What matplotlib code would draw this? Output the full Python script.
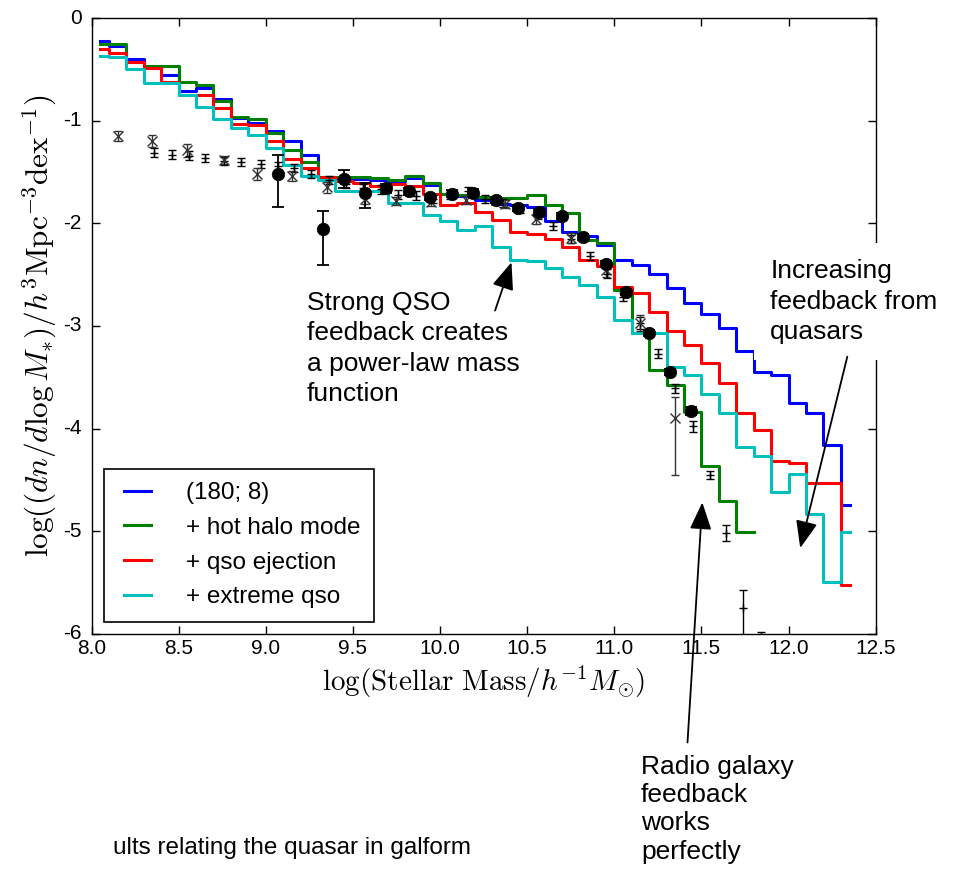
import numpy as np
import matplotlib
matplotlib.use('Agg')
from matplotlib import pyplot as plt

plt.style.use('classic')
plt.rcParams['font.family'] = ['Liberation Sans', 'DejaVu Sans']
plt.rcParams['mathtext.fontset'] = 'cm'
plt.rcParams['axes.unicode_minus'] = False

# model mass functions, bin centres (dex)
mass_bins = [8.05, 8.15, 8.25, 8.35, 8.45, 8.55, 8.65, 8.75, 8.85, 8.95,
             9.05, 9.15, 9.25, 9.35, 9.45, 9.55, 9.65, 9.75, 9.85, 9.95,
             10.05, 10.15, 10.25, 10.35, 10.45, 10.55, 10.65, 10.75, 10.85, 10.95,
             11.05, 11.15, 11.25, 11.35, 11.45, 11.55, 11.65, 11.75, 11.85, 11.95,
             12.05, 12.15, 12.25, 12.35]
nan = np.nan
mf_base = [-0.22, -0.27, -0.40, -0.48, -0.55, -0.71, -0.68, -0.79, -0.97, -1.02,
           -1.10, -1.20, -1.33, -1.55, -1.56, -1.57, -1.58, -1.59, -1.56, -1.63,
           -1.71, -1.73, -1.77, -1.81, -1.82, -1.84, -1.98, -2.08, -2.12, -2.21,
           -2.36, -2.41, -2.49, -2.63, -2.78, -2.88, -3.02, -3.24, -3.45, -3.48,
           -3.75, -3.85, -4.16, -4.75]
mf_hothalo = [-0.25, -0.25, -0.43, -0.47, -0.47, -0.62, -0.65, -0.81, -0.96, -0.98,
              -1.12, -1.29, -1.40, -1.55, -1.55, -1.55, -1.56, -1.58, -1.54, -1.61,
              -1.71, -1.72, -1.74, -1.75, -1.75, -1.72, -1.82, -1.90, -2.16, -2.19,
              -2.65, -3.07, -3.43, -3.58, -3.84, -4.37, -4.71, -5.01, nan, nan,
              nan, nan, nan, nan]
mf_qso = [-0.30, -0.34, -0.43, -0.49, -0.62, -0.75, -0.75, -0.88, -1.03, -1.04,
          -1.20, -1.37, -1.46, -1.55, -1.59, -1.61, -1.64, -1.62, -1.64, -1.71,
          -1.82, -1.80, -1.89, -1.97, -2.08, -2.10, -2.15, -2.23, -2.36, -2.42,
          -2.62, -2.68, -2.86, -3.05, -3.19, -3.36, -3.56, -3.85, -4.01, -4.32,
          -4.34, -4.53, -4.53, -5.53]
mf_extreme = [-0.37, -0.38, -0.50, -0.63, -0.63, -0.75, -0.87, -0.98, -1.07, -1.14,
              -1.27, -1.43, -1.54, -1.58, -1.69, -1.69, -1.69, -1.80, -1.80, -1.92,
              -1.98, -2.07, -2.03, -2.23, -2.36, -2.37, -2.44, -2.52, -2.60, -2.72,
              -2.94, -3.07, -3.07, -3.40, -3.48, -3.66, -3.85, -4.18, -4.27, -4.62,
              -4.44, -4.83, -5.50, -5.01]
model_labels = ['(180; 8)', '+ hot halo mode', '+ qso ejection', '+ extreme qso']
model_colors = ['b', 'g', 'r', 'c']

# observations: filled circles
obs1_x = [9.07, 9.33, 9.45, 9.57, 9.69, 9.82, 9.94, 10.07, 10.19, 10.32,
          10.45, 10.57, 10.70, 10.82, 10.95, 11.07, 11.20, 11.32, 11.44]
obs1_y = [-1.52, -2.06, -1.57, -1.70, -1.66, -1.69, -1.74, -1.71, -1.70, -1.77,
          -1.85, -1.89, -1.93, -2.13, -2.40, -2.67, -3.07, -3.45, -3.83]
obs1_lo = [0.32, 0.35, 0.09, 0.15, 0.04, 0.03, 0.03, 0.03, 0.03, 0.03,
           0.03, 0.03, 0.03, 0.03, 0.03, 0.03, 0.03, 0.03, 0.04]
obs1_hi = [0.19, 0.18, 0.09, 0.09, 0.04, 0.03, 0.03, 0.03, 0.03, 0.03,
           0.03, 0.03, 0.03, 0.03, 0.03, 0.03, 0.03, 0.03, 0.04]

# observations: crosses
obs2_x = [8.15, 8.35, 8.55, 8.76, 8.95, 9.15, 9.35, 9.57, 9.75, 9.95,
          10.15, 10.37, 10.55, 10.75, 10.95, 11.15, 11.35]
obs2_y = [-1.15, -1.20, -1.29, -1.38, -1.52, -1.54, -1.65, -1.76, -1.78, -1.79,
          -1.77, -1.81, -1.96, -2.14, -2.46, -2.97, -3.90]
obs2_lo = [0.05, 0.06, 0.06, 0.04, 0.06, 0.05, 0.05, 0.05, 0.04, 0.04,
           0.04, 0.04, 0.05, 0.05, 0.06, 0.08, 0.55]
obs2_hi = [0.05, 0.06, 0.06, 0.04, 0.06, 0.05, 0.05, 0.05, 0.04, 0.04,
           0.04, 0.04, 0.05, 0.05, 0.06, 0.08, 0.21]

# observations: plus signs
obs3_x = [8.36, 8.46, 8.56, 8.65, 8.76, 8.86, 8.97, 9.07, 9.16, 9.26,
          9.36, 9.46, 9.56, 9.66, 9.76, 9.86, 9.96, 10.06, 10.16, 10.26,
          10.36, 10.46, 10.56, 10.65, 10.75, 10.86, 10.96, 11.05, 11.15, 11.25,
          11.35, 11.45, 11.55, 11.64, 11.74, 11.84]
obs3_y = [-1.31, -1.33, -1.34, -1.36, -1.39, -1.40, -1.42, -1.44, -1.46, -1.52,
          -1.58, -1.62, -1.66, -1.67, -1.72, -1.73, -1.76, -1.72, -1.69, -1.76,
          -1.80, -1.86, -1.92, -2.03, -2.15, -2.32, -2.49, -2.72, -2.97, -3.27,
          -3.61, -3.98, -4.45, -5.02, -5.75, -6.10]
obs3_lo = [0.04] * 28 + [0.06, 0.04, 0.04, 0.05, 0.04, 0.08, 0.40, 0.12]
obs3_hi = [0.04] * 28 + [0.06, 0.04, 0.04, 0.05, 0.04, 0.08, 0.18, 0.12]

fig = plt.figure(figsize=(9.56, 8.75), dpi=100, facecolor='white')
ax = fig.add_axes([91.5 / 956, 1 - 633.7 / 875, 784.2 / 956, 615.6 / 875])
ax.set_facecolor('white')

for vals, col, lab in zip([mf_base, mf_hothalo, mf_qso, mf_extreme], model_colors, model_labels):
    ax.step(mass_bins, vals, where='mid', color=col, lw=2.2, label=lab)

ax.errorbar(obs3_x, obs3_y, yerr=[obs3_lo, obs3_hi], fmt='+', color='k',
            ms=6, mew=1.0, elinewidth=1.0, capsize=3, capthick=1.0)
ax.errorbar(obs2_x, obs2_y, yerr=[obs2_lo, obs2_hi], fmt='x', color='#333333',
            ms=7, mew=1.0, elinewidth=1.0, capsize=3, capthick=1.0)
ax.errorbar(obs1_x, obs1_y, yerr=[obs1_lo, obs1_hi], fmt='o', color='k', mec='k',
            ms=9, elinewidth=1.3, capsize=4, capthick=1.3)

ax.set_xlim(8.0, 12.5)
ax.set_ylim(-6, 0)
ax.set_xticks([8.0, 8.5, 9.0, 9.5, 10.0, 10.5, 11.0, 11.5, 12.0, 12.5])
ax.set_yticks([0, -1, -2, -3, -4, -5, -6])
ax.tick_params(direction='in', length=6, width=1, labelsize=15,
               top=True, right=True)
ax.tick_params(axis='x', pad=4)
ax.tick_params(axis='y', pad=7)
ax.set_xlabel(r'$\log({\rm Stellar\ Mass}/h^{-1}M_{\odot})$', fontsize=21, labelpad=4)
ax.set_ylabel(r'$\log((dn/d\log M_{*})/h^{3}{\rm Mpc}^{-3}{\rm dex}^{-1})$',
              fontsize=22.5, labelpad=3)

leg = ax.legend(loc='lower left', fontsize=17.5, fancybox=False, handlelength=1.7,
                handletextpad=1.15, labelspacing=0.52, borderaxespad=0.5,
                borderpad=0.55, numpoints=2)
leg.get_frame().set_edgecolor('k')
leg.get_frame().set_linewidth(1.2)

# annotations
txt_font = ['Liberation Sans', 'DejaVu Sans']
arrow = dict(arrowstyle='-|>,head_length=1.05,head_width=0.42', mutation_scale=16,
             color='k', lw=1.3, shrinkA=0, shrinkB=0)

ax.text(8 + (307 - 91.5) / 174.2, -(291 - 18.1) / 102.6,
        'Strong QSO\nfeedback creates\na power-law mass\nfunction',
        family=txt_font, fontsize=19, va='top', ha='left', linespacing=1.33, zorder=6)
ax.annotate('', xy=(10.41, -2.38), xytext=(10.316, -2.85), arrowprops=arrow, zorder=7)

ax.text(8 + (770 - 91.5) / 174.2, -(259 - 18.1) / 102.6,
        'Increasing\nfeedback from\nquasars',
        family=txt_font, fontsize=19, va='top', ha='left', linespacing=1.35, zorder=6,
        clip_on=False,
        bbox=dict(boxstyle='square,pad=0.6', fc='white', ec='none'))
ax.annotate('', xy=(12.067, -5.165), xytext=(12.337, -3.30), arrowprops=arrow,
            zorder=7, annotation_clip=False)

ax.annotate('', xy=(11.505, -4.72), xytext=(11.42, -7.06), arrowprops=arrow,
            zorder=7, annotation_clip=False)
fig.text(641 / 956, 1 - 755 / 875, 'Radio galaxy\nfeedback\nworks\nperfectly',
         family=txt_font, fontsize=19, va='top', ha='left', linespacing=1.22)

fig.text(113 / 956, 1 - 848 / 875, 'ults relating the quasar in galform',
         family=txt_font, fontsize=17.5, va='center', ha='left')

plt.savefig('out.png', dpi=100, facecolor='white')
